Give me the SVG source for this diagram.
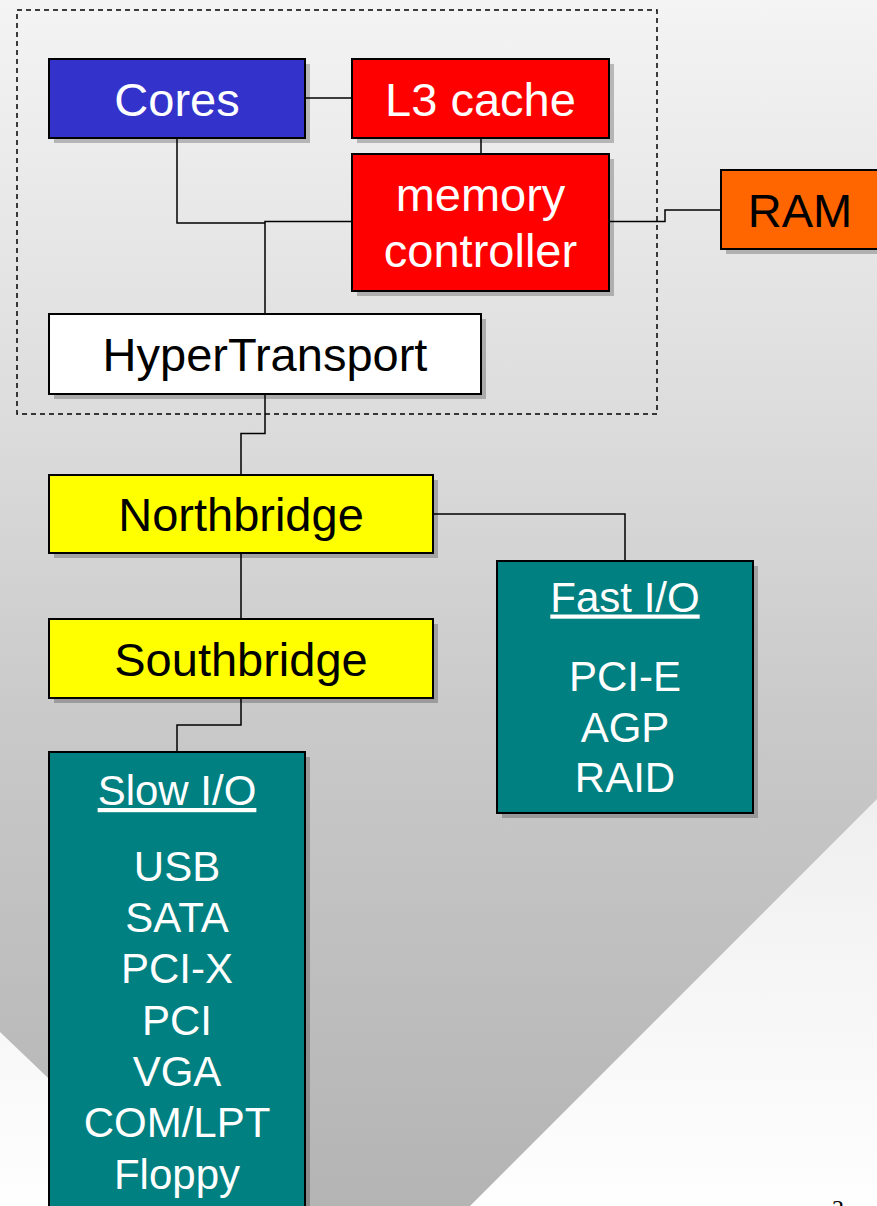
<svg xmlns="http://www.w3.org/2000/svg" width="877" height="1206" viewBox="0 0 877 1206">
<defs>
<linearGradient id="bg" x1="0" y1="0" x2="0" y2="1206" gradientUnits="userSpaceOnUse">
<stop offset="0" stop-color="#f4f4f4"/>
<stop offset="0.35" stop-color="#dcdcdc"/>
<stop offset="0.6" stop-color="#c9c9c9"/>
<stop offset="1" stop-color="#b4b4b4"/>
</linearGradient>
<linearGradient id="lt" x1="0" y1="790" x2="0" y2="1206" gradientUnits="userSpaceOnUse">
<stop offset="0" stop-color="#efefef"/>
<stop offset="1" stop-color="#fefefe"/>
</linearGradient>
<style>
.box{stroke:#000;stroke-width:2}
.sh{fill:#000;fill-opacity:0.23}
.t{font-family:"Liberation Sans",Arial,sans-serif;font-size:47px;text-anchor:middle}
.s{font-family:"Liberation Sans",Arial,sans-serif;font-size:42px;text-anchor:middle;fill:#fff}
.w{fill:#fff}
.k{fill:#000}
.c{fill:none;stroke:#000;stroke-width:1.5}
</style>
</defs>
<rect x="0" y="0" width="877" height="1206" fill="url(#bg)"/>
<polygon points="877,799 470,1206 877,1206" fill="url(#lt)"/>
<polygon points="0,1032 182,1206 0,1206" fill="url(#lt)"/>
<rect x="17" y="10" width="640" height="404" fill="none" stroke="#000" stroke-width="1.5" stroke-dasharray="5,4"/>
<g id="connectors">
<path class="c" d="M305,98 H352"/>
<path class="c" d="M481,138 V154"/>
<path class="c" d="M177,138 V223 H265"/>
<path class="c" d="M352,221.5 H265 V314"/>
<path class="c" d="M609,221.5 H665 V210 H721"/>
<path class="c" d="M265,394 V433.5 H241 V475"/>
<path class="c" d="M433,514 H625 V561"/>
<path class="c" d="M241,553 V619"/>
<path class="c" d="M241,698 V725 H177 V752"/>
</g>
<g id="cores">
<rect class="sh" x="54" y="64" width="256" height="79"/>
<rect class="box" x="49" y="59" width="256" height="79" fill="#3333cc"/>
<text class="t w" x="177" y="116">Cores</text>
</g>
<g id="l3cache">
<rect class="sh" x="357" y="64" width="257" height="79"/>
<rect class="box" x="352" y="59" width="257" height="79" fill="#ff0000"/>
<text class="t w" x="480.5" y="116">L3 cache</text>
</g>
<g id="memctl">
<rect class="sh" x="357" y="159" width="257" height="137"/>
<rect class="box" x="352" y="154" width="257" height="137" fill="#ff0000"/>
<text class="t w" x="480.5" y="211">memory</text>
<text class="t w" x="480.5" y="267">controller</text>
</g>
<g id="ram">
<rect class="sh" x="726" y="175" width="160" height="79"/>
<rect class="box" x="721" y="170" width="160" height="79" fill="#ff6600"/>
<text class="t k" x="800" y="227">RAM</text>
</g>
<g id="hypertransport">
<rect class="sh" x="54" y="319" width="432" height="80"/>
<rect class="box" x="49" y="314" width="432" height="80" fill="#ffffff"/>
<text class="t k" x="265" y="371">HyperTransport</text>
</g>
<g id="northbridge">
<rect class="sh" x="54" y="480" width="384" height="78"/>
<rect class="box" x="49" y="475" width="384" height="78" fill="#ffff00"/>
<text class="t k" x="241" y="531">Northbridge</text>
</g>
<g id="southbridge">
<rect class="sh" x="54" y="624" width="384" height="79"/>
<rect class="box" x="49" y="619" width="384" height="79" fill="#ffff00"/>
<text class="t k" x="241" y="675.5">Southbridge</text>
</g>
<g id="fastio">
<rect class="sh" x="502" y="566" width="256" height="252"/>
<rect class="box" x="497" y="561" width="256" height="252" fill="#008080"/>
<text class="s" x="625" y="611.5" text-decoration="underline">Fast I/O</text>
<text class="s" x="625" y="691">PCI-E</text>
<text class="s" x="625" y="742">AGP</text>
<text class="s" x="625" y="792">RAID</text>
</g>
<g id="slowio">
<rect class="sh" x="54" y="757" width="256" height="460"/>
<rect class="box" x="49" y="752" width="256" height="460" fill="#008080"/>
<text class="s" x="177" y="805" text-decoration="underline">Slow I/O</text>
<text class="s" x="177" y="881">USB</text>
<text class="s" x="177" y="932">SATA</text>
<text class="s" x="177" y="983">PCI-X</text>
<text class="s" x="177" y="1035">PCI</text>
<text class="s" x="177" y="1086">VGA</text>
<text class="s" x="177" y="1137">COM/LPT</text>
<text class="s" x="177" y="1189">Floppy</text>
</g>
<text x="838" y="1216" font-family="Liberation Serif,serif" font-size="24" text-anchor="middle" fill="#000">2</text>
</svg>
